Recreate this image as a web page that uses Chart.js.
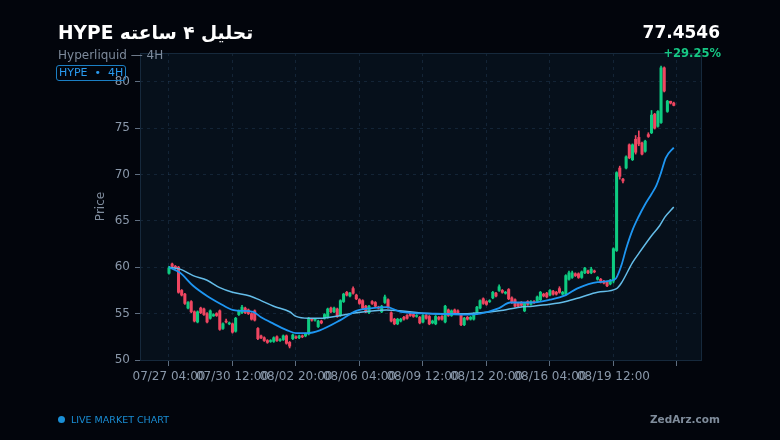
<!DOCTYPE html>
<html>
<head>
<meta charset="utf-8">
<script src="https://cdn.jsdelivr.net/npm/chart.js@4.4.1/dist/chart.umd.min.js"></script>
<style>
  body { margin: 0; background: #02050c; }
  #wrap { position: relative; width: 780px; height: 440px; background: #02050c; font-family: 'DejaVu Sans', sans-serif; overflow: hidden; }
  #c { position: absolute; left: 0; top: 0; }
  .t { position: absolute; white-space: nowrap; line-height: 1; }
</style>
</head>
<body>
<div id="wrap">
  <canvas id="c" width="780" height="440"></canvas>
  <div class="t" style="left:58px;top:24px;font-size:18.6px;font-weight:bold;color:#ffffff">HYPE تحلیل ۴ ساعته</div>
  <div class="t" style="left:58px;top:49px;font-size:12px;color:#7d8a9b">Hyperliquid — 4H</div>
  <div class="t" style="left:56px;top:65px;height:13px;padding:1px 2px 0 2px;border:1px solid #1b7fc4;border-radius:3px;font-size:11px;color:#2a9bf0">HYPE &nbsp;•&nbsp; 4H</div>
  <div class="t" style="right:60px;top:24px;font-size:17px;font-weight:bold;color:#ffffff">77.4546</div>
  <div class="t" style="right:59px;top:48px;font-size:11.5px;font-weight:bold;color:#16c784">+29.25%</div>
  <div class="t" style="left:58px;top:416px;width:7px;height:7px;border-radius:50%;background:#1a8fd6"></div>
  <div class="t" style="left:71px;top:415px;font-size:9.5px;color:#1a8fd6">LIVE MARKET CHART</div>
  <div class="t" style="right:60px;top:414px;font-size:10.5px;font-weight:bold;color:#7f8c9b">ZedArz.com</div>
</div>
<script>
// 4H candles, index 0 = 07/27 04:00
const openP = [
  59.35, 60.35, 60.1, 60.0, 57.5, 57.1, 55.6, 56.3, 55.2, 54.1,
  55.6, 55.5, 55.0, 54.5, 54.75, 55.0, 55.3, 53.4, 54.2, 53.9,
  53.9, 53.1, 54.9, 55.1, 55.6, 55.4, 55.0, 55.3, 53.4, 52.6,
  52.4, 52.1, 52.0, 52.0, 52.5, 52.1, 52.2, 52.6, 51.9, 52.3,
  52.5, 52.4, 52.6, 52.6, 52.8, 54.4, 54.3, 53.6, 54.2, 54.5,
  54.6, 55.6, 55.2, 55.5, 54.8, 56.3, 57.3, 56.9, 57.7, 57.0,
  56.5, 56.4, 55.8, 55.1, 56.3, 56.2, 55.7, 55.2, 56.2, 56.5,
  55.1, 54.4, 53.9, 54.2, 54.6, 54.8, 55.0, 54.9, 54.7, 54.6,
  54.1, 54.8, 54.7, 54.0, 53.9, 54.6, 54.7, 54.1, 55.4, 54.8,
  55.4, 55.3, 54.8, 53.8, 54.6, 54.4, 54.4, 55.0, 55.6, 56.6,
  56.3, 56.3, 56.7, 57.2, 57.5, 57.5, 57.2, 57.6, 56.7, 56.5,
  56.1, 56.2, 55.3, 56.3, 56.0, 56.3, 56.3, 56.5, 57.1, 57.2,
  57.0, 57.4, 57.3, 57.7, 57.1, 57.1, 58.7, 58.9, 59.3, 59.3,
  58.9, 59.4, 59.6, 59.4, 59.6, 58.7, 58.7, 58.5, 58.4, 58.2,
  58.5, 61.8, 70.7, 69.5, 70.7, 73.2, 71.6, 73.8, 74.0, 73.4,
  72.5, 74.3, 74.5, 76.5, 75.2, 75.6, 81.5, 76.8, 77.9, 77.7
];
const highP = [
  60.1, 60.45, 60.2, 60.1, 57.6, 57.2, 56.3, 56.4, 55.3, 55.3,
  55.7, 55.6, 55.1, 55.4, 55.0, 55.1, 55.4, 54.0, 54.4, 54.1,
  54.0, 54.6, 55.4, 55.9, 55.7, 55.5, 55.1, 55.4, 53.5, 52.7,
  52.5, 52.2, 52.2, 52.5, 52.6, 52.3, 52.7, 52.7, 52.0, 52.8,
  52.6, 52.7, 52.7, 52.9, 54.6, 54.5, 54.5, 54.3, 54.3, 55.0,
  55.6, 55.7, 55.7, 55.6, 56.5, 57.2, 57.4, 57.3, 57.9, 57.1,
  56.6, 56.5, 55.9, 55.9, 56.4, 56.3, 55.8, 55.9, 57.0, 56.6,
  55.2, 54.5, 54.5, 54.5, 54.7, 54.9, 55.1, 55.0, 54.9, 54.7,
  54.9, 54.9, 54.8, 54.3, 54.8, 54.7, 54.8, 55.9, 55.5, 55.4,
  55.5, 55.4, 54.9, 54.6, 54.7, 54.7, 55.1, 55.8, 56.5, 56.7,
  56.4, 56.5, 57.4, 57.3, 58.1, 57.6, 57.4, 57.7, 56.8, 56.6,
  56.2, 56.3, 56.2, 56.4, 56.4, 56.4, 56.9, 57.4, 57.2, 57.3,
  57.6, 57.5, 57.4, 57.9, 57.4, 59.2, 59.6, 59.6, 59.4, 59.4,
  59.6, 60.0, 59.7, 60.0, 59.7, 59.0, 58.8, 58.6, 58.5, 58.7,
  62.1, 70.3, 70.9, 69.6, 72.0, 73.3, 73.3, 74.2, 74.7, 73.5,
  73.7, 74.5, 76.9, 76.6, 76.9, 81.7, 81.6, 78.0, 77.9, 77.8
];
const lowP = [
  59.25, 60.0, 59.85, 57.2, 56.9, 56.0, 55.5, 55.1, 54.1, 54.0,
  55.0, 54.8, 54.0, 54.4, 54.7, 54.7, 53.2, 53.3, 54.0, 53.8,
  52.9, 53.0, 54.8, 55.0, 55.0, 54.9, 54.3, 54.2, 52.2, 52.3,
  52.0, 51.8, 51.9, 51.9, 52.0, 52.0, 52.1, 51.7, 51.3, 52.2,
  52.3, 52.3, 52.4, 52.5, 52.7, 54.2, 54.2, 53.5, 53.9, 54.4,
  54.5, 55.1, 55.1, 54.6, 54.7, 56.2, 56.9, 56.8, 57.1, 56.5,
  56.0, 55.5, 55.1, 55.0, 56.0, 55.7, 55.5, 55.1, 56.1, 55.6,
  54.1, 53.8, 53.8, 54.1, 54.3, 54.4, 54.7, 54.6, 54.6, 53.9,
  54.0, 54.4, 53.8, 53.9, 53.8, 54.3, 54.3, 54.0, 54.7, 54.7,
  55.0, 54.9, 53.7, 53.7, 54.3, 54.3, 54.3, 54.9, 55.5, 56.0,
  55.9, 56.2, 56.6, 56.8, 57.4, 57.2, 57.1, 56.5, 56.1, 55.7,
  55.7, 55.8, 55.2, 55.9, 55.9, 56.1, 56.2, 56.4, 56.8, 56.7,
  56.9, 57.0, 57.0, 57.2, 57.0, 57.0, 58.6, 58.8, 59.0, 58.8,
  58.8, 59.3, 59.3, 59.3, 59.4, 58.6, 58.3, 58.2, 57.9, 58.1,
  58.3, 61.7, 69.5, 69.1, 70.6, 71.7, 71.5, 72.2, 73.1, 72.1,
  72.4, 74.0, 74.4, 74.9, 75.1, 75.5, 78.9, 76.7, 77.6, 77.4
];
const closeP = [
  59.93, 60.1, 59.95, 57.3, 57.0, 56.1, 56.2, 55.2, 54.2, 55.2,
  55.1, 54.9, 54.1, 55.3, 54.9, 54.8, 53.3, 53.9, 54.1, 54.0,
  53.0, 54.5, 55.3, 55.7, 55.1, 55.0, 54.4, 54.3, 52.3, 52.4,
  52.1, 51.9, 52.1, 52.4, 52.1, 52.2, 52.6, 51.8, 51.5, 52.7,
  52.4, 52.6, 52.5, 52.8, 54.5, 54.3, 54.4, 54.2, 54.0, 54.9,
  55.5, 55.2, 55.6, 54.7, 56.4, 57.1, 57.0, 57.2, 57.2, 56.6,
  56.1, 55.6, 55.2, 55.8, 56.1, 55.8, 55.6, 55.8, 56.8, 55.7,
  54.2, 53.9, 54.4, 54.4, 54.4, 54.5, 54.8, 54.7, 54.8, 54.0,
  54.8, 54.5, 53.9, 54.2, 54.7, 54.4, 54.4, 55.8, 54.8, 55.3,
  55.1, 55.0, 53.8, 54.5, 54.4, 54.6, 55.0, 55.7, 56.4, 56.1,
  56.0, 56.4, 57.3, 56.9, 57.9, 57.3, 57.3, 56.6, 56.2, 55.8,
  55.8, 55.9, 56.1, 56.0, 56.3, 56.2, 56.8, 57.3, 56.9, 56.8,
  57.5, 57.1, 57.1, 57.3, 57.3, 59.1, 59.4, 59.4, 59.1, 58.9,
  59.5, 59.9, 59.4, 59.8, 59.5, 58.9, 58.4, 58.3, 58.0, 58.6,
  62.0, 70.2, 69.8, 69.3, 71.9, 71.8, 73.2, 72.4, 73.3, 72.2,
  73.6, 74.1, 76.4, 75.0, 76.8, 81.5, 79.0, 77.9, 77.7, 77.4546
];

// moving-average lines at candle positions
const fastIdx = [0, 3.5, 7.6, 12, 16, 20, 22.5, 26.5, 29, 33, 38, 40, 43.5, 47.5, 54, 59, 64, 68.5, 73, 83, 94, 98, 104, 107.5, 114.5, 120, 125, 128.5, 135, 140.5, 142.5, 144, 146, 148, 150, 152, 153.5, 155, 156.5, 159];
const fastVal = [60.0, 59.4, 58.0, 56.9, 56.1, 55.4, 55.3, 55.2, 54.6, 53.9, 53.1, 52.9, 52.9, 53.2, 54.3, 55.3, 55.6, 55.7, 55.2, 55.0, 54.9, 55.0, 55.6, 56.2, 56.2, 56.5, 57.0, 57.7, 58.4, 58.7, 60.2, 62.0, 64.0, 65.5, 66.8, 67.9, 68.8, 70.2, 71.8, 72.9];
const slowIdx = [0, 3.5, 7.6, 12, 16, 20, 25.5, 29, 33, 38, 40, 44, 47.5, 54, 59, 68.5, 83, 94, 104, 110.5, 114.5, 120, 125, 130, 135, 141, 142.5, 146, 148, 152, 154.6, 156.2, 159];
const slowVal = [60.0, 59.8, 59.1, 58.6, 57.8, 57.3, 56.9, 56.4, 55.8, 55.2, 54.7, 54.5, 54.5, 54.8, 55.1, 55.4, 55.0, 55.0, 55.3, 55.7, 55.8, 56.0, 56.3, 56.8, 57.3, 57.7, 58.3, 60.5, 61.5, 63.4, 64.5, 65.4, 66.5];

const xTickLabels = ['07/27 04:00', '07/30 12:00', '08/02 20:00', '08/06 04:00', '08/09 12:00', '08/12 20:00', '08/16 04:00', '08/19 12:00'];

const UP = '#0ecb81';
const DOWN = '#ef4661';
const candleColors = closeP.map((c, i) => c >= openP[i] ? UP : DOWN);

const panelBg = {
  id: 'panelBg',
  beforeDraw(chart) {
    const { ctx, chartArea: a } = chart;
    ctx.save();
    ctx.fillStyle = '#02050c';
    ctx.fillRect(0, 0, chart.width, chart.height);
    ctx.fillStyle = '#06101b';
    ctx.fillRect(a.left, a.top, a.right - a.left, a.bottom - a.top);
    ctx.restore();
  },
  afterDraw(chart) {
    const { ctx, chartArea: a } = chart;
    ctx.save();
    ctx.strokeStyle = '#16293c';
    ctx.lineWidth = 1;
    ctx.strokeRect(a.left + 0.5, a.top + 0.5, a.right - a.left - 1, a.bottom - a.top);
    ctx.restore();
  }
};

Chart.defaults.font.family = "'DejaVu Sans', sans-serif";

new Chart(document.getElementById('c'), {
  type: 'bar',
  data: {
    datasets: [
      {
        type: 'line',
        label: 'fast',
        data: fastIdx.map((x, i) => ({ x: x, y: fastVal[i] })),
        borderColor: '#1e96f2',
        borderWidth: 1.8,
        pointRadius: 0,
        cubicInterpolationMode: 'monotone',
        order: 0
      },
      {
        type: 'line',
        label: 'slow',
        data: slowIdx.map((x, i) => ({ x: x, y: slowVal[i] })),
        borderColor: '#64bde9',
        borderWidth: 1.5,
        pointRadius: 0,
        cubicInterpolationMode: 'monotone',
        order: 0
      },
      {
        label: 'bodies',
        data: openP.map((o, i) => ({ x: i, y: [o, closeP[i]] })),
        backgroundColor: candleColors,
        barThickness: 2.4,
        grouped: false,
        order: 1
      },
      {
        label: 'wicks',
        data: openP.map((o, i) => ({ x: i, y: [lowP[i], highP[i]] })),
        backgroundColor: candleColors,
        barThickness: 1,
        grouped: false,
        order: 2
      }
    ]
  },
  options: {
    responsive: false,
    animation: false,
    layout: { padding: { left: 90, right: 78, top: 53, bottom: 53 } },
    plugins: {
      legend: { display: false },
      tooltip: { enabled: false }
    },
    scales: {
      x: {
        type: 'linear',
        min: -9.13,
        max: 167.9,
        offset: false,
        afterFit(scale) { scale.height = 27; },
        grid: { offset: false, color: 'rgba(45,75,105,0.35)', tickColor: '#5f6e80', tickLength: 6 },
        border: { display: false, dash: [3, 4] },
        ticks: {
          stepSize: 20,
          includeBounds: false,
          autoSkip: false,
          maxRotation: 0,
          color: '#8a98aa',
          font: { size: 12 },
          padding: 4,
          callback: (v) => xTickLabels[v / 20] || ''
        }
      },
      y: {
        min: 50,
        max: 83.1,
        afterFit(scale) { scale.width = 50; },
        grid: { color: 'rgba(45,75,105,0.35)', tickColor: '#5f6e80', tickLength: 5 },
        border: { display: false, dash: [3, 4] },
        ticks: {
          stepSize: 5,
          includeBounds: false,
          color: '#8a98aa',
          font: { size: 12 },
          padding: 5
        },
        title: {
          display: true,
          text: 'Price',
          color: '#7f8c9d',
          font: { size: 12 }
        }
      }
    }
  },
  plugins: [panelBg]
});
</script>
</body>
</html>
